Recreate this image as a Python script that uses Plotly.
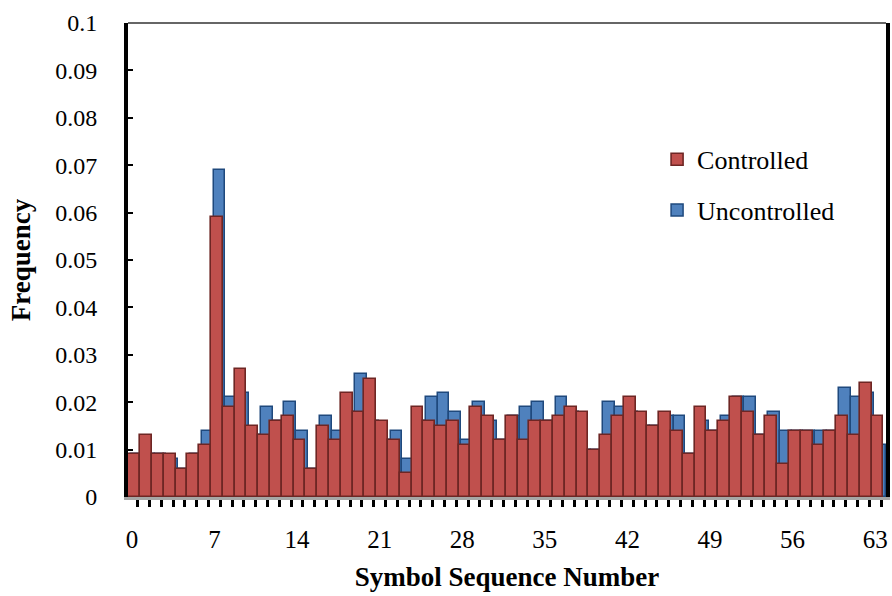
import plotly.graph_objects as go

symbols = list(range(64))

controlled = [
    0.009, 0.013, 0.009, 0.009, 0.006, 0.009, 0.011, 0.059,
    0.019, 0.027, 0.015, 0.013, 0.016, 0.017, 0.012, 0.006,
    0.015, 0.012, 0.022, 0.018, 0.025, 0.016, 0.012, 0.005,
    0.019, 0.016, 0.015, 0.016, 0.011, 0.019, 0.017, 0.012,
    0.017, 0.012, 0.016, 0.016, 0.017, 0.019, 0.018, 0.010,
    0.013, 0.017, 0.021, 0.018, 0.015, 0.018, 0.014, 0.009,
    0.019, 0.014, 0.016, 0.021, 0.018, 0.013, 0.017, 0.007,
    0.014, 0.014, 0.011, 0.014, 0.017, 0.013, 0.024, 0.017,
]

uncontrolled = [
    0.009, 0.009, 0.009, 0.008, 0.006, 0.009, 0.014, 0.069,
    0.021, 0.022, 0.013, 0.019, 0.016, 0.020, 0.014, 0.006,
    0.017, 0.014, 0.018, 0.026, 0.016, 0.012, 0.014, 0.008,
    0.016, 0.021, 0.022, 0.018, 0.012, 0.020, 0.016, 0.012,
    0.017, 0.019, 0.020, 0.016, 0.021, 0.018, 0.010, 0.010,
    0.020, 0.019, 0.018, 0.015, 0.015, 0.017, 0.017, 0.009,
    0.016, 0.014, 0.017, 0.021, 0.021, 0.013, 0.018, 0.014,
    0.014, 0.014, 0.014, 0.014, 0.023, 0.021, 0.022, 0.011,
]

x_tick_vals = [0, 7, 14, 21, 28, 35, 42, 49, 56, 63]
x_tick_text = ["0", "7", "14", "21", "28", "35", "42", "49", "56", "63"]
y_tick_vals = [0, 0.01, 0.02, 0.03, 0.04, 0.05, 0.06, 0.07, 0.08, 0.09, 0.1]
y_tick_text = ["0", "0.01", "0.02", "0.03", "0.04", "0.05", "0.06", "0.07", "0.08", "0.09", "0.1"]

FONT = "Liberation Serif"

fig = go.Figure()
fig.add_trace(go.Bar(
    x=symbols, y=uncontrolled, name="Uncontrolled",
    width=1, offset=-0.08,
    marker=dict(color="#4F81BD", line=dict(color="#1F497D", width=1.5)),
    legendrank=2, legendgroup="u",
))
fig.add_trace(go.Bar(
    x=symbols, y=controlled, name="Controlled",
    width=1, offset=-0.3,
    marker=dict(color="#C0504D", line=dict(color="#6E2624", width=1.6)),
    legendrank=1, legendgroup="c",
))

fig.update_layout(
    width=892, height=596,
    margin=dict(l=128, r=2, t=23, b=99),
    paper_bgcolor="white", plot_bgcolor="white",
    barmode="overlay", bargap=0,
    font=dict(family=FONT, size=25, color="black"),
    showlegend=True,
    legend=dict(
        x=0.698, y=0.762, xanchor="left", yanchor="top",
        font=dict(family=FONT, size=26, color="black"),
        traceorder="grouped", tracegroupgap=14,
        bgcolor="rgba(0,0,0,0)",
    ),
    xaxis=dict(
        range=[-0.33, 63.92],
        tickvals=x_tick_vals, ticktext=x_tick_text,
        ticks="", showgrid=False, zeroline=False,
        showline=True, linecolor="#A6A6A6", linewidth=3,
        ticklabelstandoff=18,
        tickfont=dict(family=FONT, size=25),
        minor=dict(tick0=0.5, dtick=1, ticks="outside", ticklen=7,
                   tickwidth=2.5, tickcolor="black", showgrid=False),
        title=dict(text="<b>Symbol Sequence Number</b>",
                   font=dict(family=FONT, size=27), standoff=16),
    ),
    yaxis=dict(
        range=[0, 0.1],
        tickvals=y_tick_vals, ticktext=y_tick_text,
        ticks="inside", ticklen=5, tickwidth=2, tickcolor="black",
        showgrid=False, zeroline=False,
        showline=True, linecolor="black", linewidth=4, mirror=True,
        ticklabelstandoff=22,
        tickfont=dict(family=FONT, size=24),
        title=dict(text="<b>Frequency</b>",
                   font=dict(family=FONT, size=27), standoff=18),
    ),
    shapes=[dict(type="line", xref="paper", yref="paper",
                 x0=0, x1=1, y0=1, y1=1,
                 line=dict(color="#333333", width=1.5))],
)

fig.write_html("out.html")
